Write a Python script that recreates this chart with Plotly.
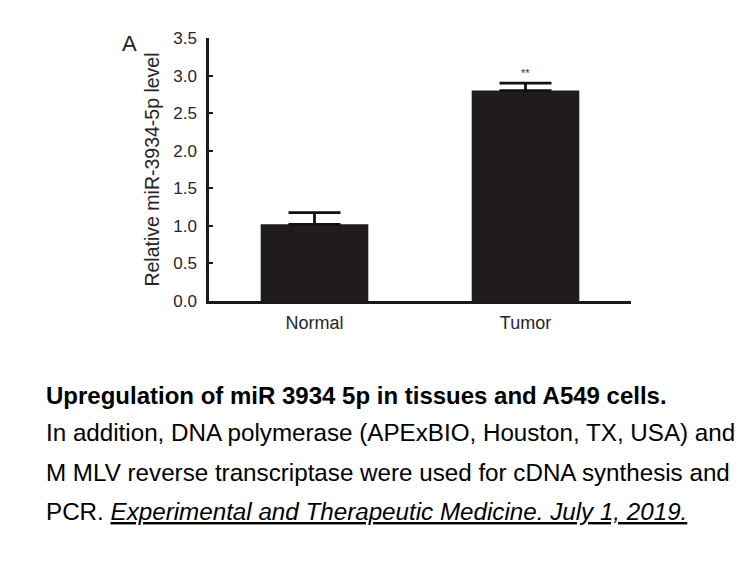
import plotly.graph_objects as go

# data
groups = ['Normal', 'Tumor']
mean_level = [1.02, 2.80]
sem_level = [0.155, 0.10]
signif = ['', '**']

y_ticks = [0, 0.5, 1.0, 1.5, 2.0, 2.5, 3.0, 3.5]

caption_title = 'Upregulation of miR 3934 5p in tissues and A549 cells.'
caption_lines = [
    'In addition, DNA polymerase (APExBIO, Houston, TX, USA) and',
    'M MLV reverse transcriptase were used for cDNA synthesis and',
    'PCR. <i><u>Experimental and Therapeutic Medicine. July 1, 2019.</u></i>',
]

# page is 756x567, the page body adds ~8px, so targets are shifted back
W, H = 756, 567
OFF = 8
L, T = 209 - OFF, 38 - OFF
R = W - (631 - OFF)
B = H - (301 - OFF)
pw, ph = W - L - R, H - T - B


def px_x(x):
    return (x - OFF - L) / pw


def px_y(y):
    return (H - B - (y - OFF)) / ph


bar_col = '#201c1d'
font = 'Arial, Liberation Sans, sans-serif'

fig = go.Figure()
fig.add_trace(go.Bar(
    x=groups, y=mean_level,
    marker=dict(color=bar_col, line=dict(width=0)),
    error_y=dict(type='data', array=sem_level, symmetric=False,
                 arrayminus=[0, 0], color='#111111', thickness=2.8, width=26),
    width=0.51,
    showlegend=False,
))

# significance stars
for g, m, e, s in zip(groups, mean_level, sem_level, signif):
    if s:
        fig.add_annotation(x=g, y=m + e, text=s, showarrow=False,
                           yshift=10, font=dict(size=11, color='#333333', family=font))

fig.update_xaxes(
    showline=True, linewidth=2.5, linecolor='#1a1a1a',
    ticks='', showgrid=False, ticklabelstandoff=4,
    tickfont=dict(size=18, color='#262626', family=font),
)
fig.update_yaxes(
    range=[0, 3.5], tickvals=y_ticks, tickformat='.1f',
    showline=True, linewidth=2.5, linecolor='#1a1a1a',
    ticks='inside', ticklen=4, tickwidth=2, tickcolor='#1a1a1a',
    showgrid=False, zeroline=False, ticklabelstandoff=6,
    tickfont=dict(size=17, color='#262626', family=font),
    title=dict(text='Relative miR-3934-5p level', standoff=9,
               font=dict(size=19.5, color='#262626', family=font)),
)

# panel letter
fig.add_annotation(x=px_x(129), y=px_y(43), xref='paper', yref='paper',
                   text='A', showarrow=False, xanchor='center', yanchor='middle',
                   font=dict(size=22, color='#222222', family=font))

# caption under the chart
fig.add_annotation(x=px_x(44), y=px_y(395), xref='paper', yref='paper',
                   text='<b>' + caption_title + '</b>', showarrow=False,
                   xanchor='left', yanchor='middle',
                   font=dict(size=24, color='#000000', family=font))
for i, line in enumerate(caption_lines):
    fig.add_annotation(x=px_x(44), y=px_y(433 + 39 * i), xref='paper', yref='paper',
                       text=line, showarrow=False, xanchor='left', yanchor='middle',
                       font=dict(size=24.2, color='#000000', family=font))

fig.update_layout(
    width=W, height=H,
    margin=dict(l=L, r=R, t=T, b=B),
    paper_bgcolor='white', plot_bgcolor='white',
    bargap=0.49,
)

fig.write_html("out.html")
